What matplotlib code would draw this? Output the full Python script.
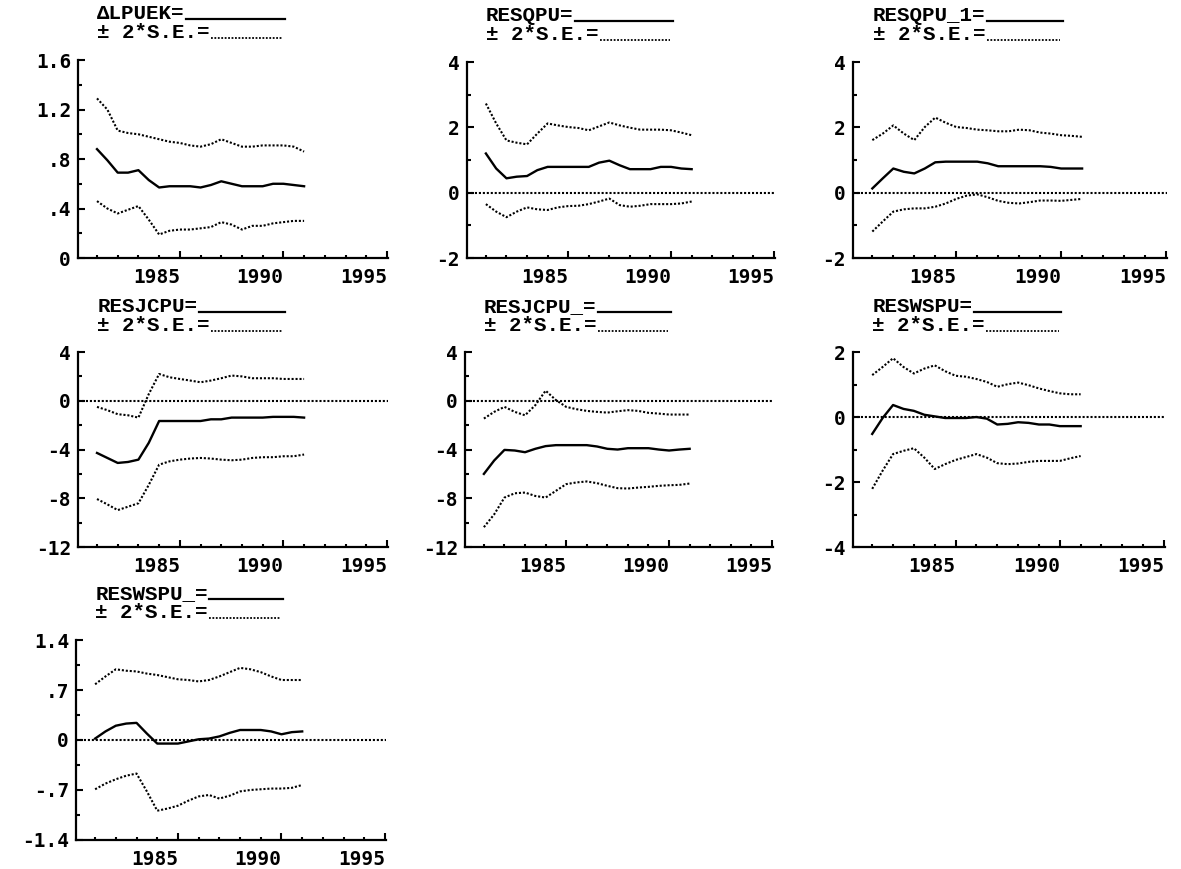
import numpy as np
import matplotlib
matplotlib.use("Agg")
import matplotlib.pyplot as plt
from matplotlib.font_manager import FontProperties

# half-yearly recursive estimates, 1981 - 1991
years = np.arange(1981, 1991.01, 0.5)

lpuek    = [0.88, 0.79, 0.69, 0.69, 0.71, 0.63, 0.57, 0.58, 0.58, 0.58, 0.57,
            0.59, 0.62, 0.60, 0.58, 0.58, 0.58, 0.60, 0.60, 0.59, 0.58]
lpuek_hi = [1.29, 1.20, 1.03, 1.01, 1.00, 0.98, 0.96, 0.94, 0.93, 0.91, 0.90,
            0.92, 0.96, 0.93, 0.90, 0.90, 0.91, 0.91, 0.91, 0.90, 0.86]
lpuek_lo = [0.46, 0.40, 0.36, 0.39, 0.42, 0.31, 0.19, 0.22, 0.23, 0.23, 0.24,
            0.25, 0.29, 0.27, 0.23, 0.26, 0.26, 0.28, 0.29, 0.30, 0.30]

qpu    = [1.20, 0.74, 0.44, 0.49, 0.51, 0.69, 0.79, 0.79, 0.79, 0.79, 0.79,
          0.92, 0.98, 0.84, 0.72, 0.72, 0.72, 0.79, 0.79, 0.74, 0.72]
qpu_hi = [2.73, 2.12, 1.60, 1.53, 1.48, 1.81, 2.12, 2.06, 2.01, 1.98, 1.91,
          2.03, 2.15, 2.06, 1.99, 1.93, 1.93, 1.93, 1.91, 1.84, 1.76]
qpu_lo = [-0.35, -0.58, -0.75, -0.58, -0.45, -0.51, -0.53, -0.45, -0.41, -0.40, -0.35,
          -0.27, -0.18, -0.38, -0.43, -0.40, -0.35, -0.35, -0.35, -0.33, -0.27]

qpu1    = [0.13, 0.44, 0.74, 0.64, 0.59, 0.74, 0.93, 0.95, 0.95, 0.95, 0.95,
           0.90, 0.81, 0.81, 0.81, 0.81, 0.81, 0.79, 0.74, 0.74, 0.74]
qpu1_hi = [1.61, 1.81, 2.06, 1.81, 1.61, 2.01, 2.30, 2.14, 2.01, 1.98, 1.93,
           1.91, 1.88, 1.88, 1.93, 1.91, 1.84, 1.81, 1.76, 1.74, 1.71]
qpu1_lo = [-1.19, -0.88, -0.58, -0.51, -0.48, -0.48, -0.43, -0.33, -0.19, -0.09, -0.05,
           -0.14, -0.25, -0.31, -0.33, -0.29, -0.24, -0.24, -0.25, -0.22, -0.19]

jcpu    = [-4.28, -4.69, -5.10, -5.02, -4.83, -3.45, -1.66, -1.66, -1.66, -1.66, -1.66,
           -1.52, -1.52, -1.38, -1.38, -1.38, -1.38, -1.32, -1.32, -1.32, -1.38]
jcpu_hi = [-0.50, -0.77, -1.10, -1.19, -1.38, 0.55, 2.20, 1.93, 1.79, 1.66, 1.52,
           1.66, 1.85, 2.07, 2.00, 1.85, 1.85, 1.85, 1.79, 1.79, 1.79]
jcpu_lo = [-8.06, -8.50, -8.97, -8.69, -8.41, -6.90, -5.24, -4.97, -4.83, -4.74, -4.69,
           -4.74, -4.83, -4.88, -4.83, -4.69, -4.63, -4.63, -4.55, -4.55, -4.41]

jcpu_    = [-6.00, -4.90, -4.03, -4.08, -4.22, -3.94, -3.72, -3.64, -3.64, -3.64, -3.64,
            -3.75, -3.94, -4.00, -3.89, -3.89, -3.89, -4.00, -4.08, -4.00, -3.94]
jcpu__hi = [-1.46, -0.91, -0.50, -0.91, -1.19, -0.36, 0.83, 0.06, -0.50, -0.69, -0.83,
            -0.91, -0.97, -0.86, -0.77, -0.83, -0.99, -1.05, -1.13, -1.13, -1.13]
jcpu__lo = [-10.37, -9.32, -7.94, -7.59, -7.53, -7.81, -7.94, -7.39, -6.84, -6.70, -6.62,
            -6.76, -6.98, -7.17, -7.20, -7.12, -7.06, -6.98, -6.93, -6.90, -6.79]

wspu    = [-0.52, -0.03, 0.37, 0.25, 0.19, 0.07, 0.02, -0.03, -0.03, -0.03, 0.00,
           -0.05, -0.23, -0.21, -0.16, -0.18, -0.23, -0.23, -0.28, -0.28, -0.28]
wspu_hi = [1.29, 1.54, 1.81, 1.54, 1.34, 1.49, 1.59, 1.41, 1.27, 1.24, 1.17,
           1.08, 0.93, 1.01, 1.06, 0.98, 0.88, 0.80, 0.73, 0.70, 0.70]
wspu_lo = [-2.21, -1.65, -1.14, -1.04, -0.96, -1.25, -1.60, -1.45, -1.32, -1.23, -1.14,
           -1.25, -1.42, -1.45, -1.43, -1.38, -1.35, -1.35, -1.35, -1.27, -1.20]

wspu_    = [0.02, 0.12, 0.20, 0.23, 0.24, 0.09, -0.05, -0.05, -0.05, -0.02, 0.01,
            0.02, 0.05, 0.10, 0.14, 0.14, 0.14, 0.12, 0.08, 0.11, 0.12]
wspu__hi = [0.78, 0.89, 0.99, 0.97, 0.96, 0.93, 0.91, 0.88, 0.85, 0.84, 0.82,
            0.84, 0.89, 0.95, 1.01, 0.99, 0.95, 0.89, 0.84, 0.84, 0.84]
wspu__lo = [-0.69, -0.61, -0.55, -0.50, -0.47, -0.72, -0.99, -0.96, -0.92, -0.85, -0.79,
            -0.77, -0.82, -0.78, -0.72, -0.70, -0.69, -0.68, -0.68, -0.67, -0.63]

names = ["\u0394LPUEK", "RESQPU", "RESQPU_1", "RESJCPU", "RESJCPU_", "RESWSPU", "RESWSPU_"]
se_label = "\u00b1 2*S.E.="
series = [(lpuek, lpuek_hi, lpuek_lo), (qpu, qpu_hi, qpu_lo), (qpu1, qpu1_hi, qpu1_lo),
          (jcpu, jcpu_hi, jcpu_lo), (jcpu_, jcpu__hi, jcpu__lo),
          (wspu, wspu_hi, wspu_lo), (wspu_, wspu__hi, wspu__lo)]

yticks = [[0, 0.4, 0.8, 1.2, 1.6], [-2, 0, 2, 4], [-2, 0, 2, 4],
          [-12, -8, -4, 0, 4], [-12, -8, -4, 0, 4], [-4, -2, 0, 2],
          [-1.4, -0.7, 0, 0.7, 1.4]]
ylabels = [["0", ".4", ".8", "1.2", "1.6"], ["-2", "0", "2", "4"], ["-2", "0", "2", "4"],
           ["-12", "-8", "-4", "0", "4"], ["-12", "-8", "-4", "0", "4"],
           ["-4", "-2", "0", "2"], ["-1.4", "-.7", "0", ".7", "1.4"]]

xmajor = [1985, 1990, 1995]
xlabels = ["1985", "1990", "1995"]
xminor = [y for y in range(1981, 1995) if y not in xmajor]

# axes boxes (figure fraction)
boxes = [[0.0660, 0.7031, 0.2625, 0.2278], [0.3954, 0.7031, 0.2608, 0.2255],
         [0.7223, 0.7031, 0.2659, 0.2255], [0.0660, 0.3705, 0.2625, 0.2244],
         [0.3937, 0.3705, 0.2608, 0.2244], [0.7223, 0.3705, 0.2642, 0.2244],
         [0.0644, 0.0334, 0.2625, 0.2301]]

tick_font = dict(family=["DejaVu Sans Mono"], weight="bold", size=14)
title_font = dict(family=["Liberation Mono", "DejaVu Sans Mono"], weight="bold", size=15)
dots = (0, (1, 0.9))

fig = plt.figure(figsize=(11.81, 8.69), dpi=100)
axes = []
for i, box in enumerate(boxes):
    ax = fig.add_axes(box)
    mid, hi, lo = series[i]
    ax.plot(years, mid, color="black", lw=1.7, solid_joinstyle="round")
    ax.plot(years, hi, color="black", lw=1.5, ls=dots)
    ax.plot(years, lo, color="black", lw=1.5, ls=dots)
    if yticks[i][0] < 0:
        ax.axhline(0, color="black", lw=1.5, ls=dots)

    ax.set_xlim(1980.08, 1995.05)
    ax.set_ylim(yticks[i][0], yticks[i][-1])
    for s in ["top", "right"]:
        ax.spines[s].set_visible(False)
    for s in ["left", "bottom"]:
        ax.spines[s].set_linewidth(1.6)

    ax.set_xticks(xmajor, xlabels, **tick_font)
    ax.set_xticks(xminor, minor=True)
    for lbl in ax.get_xticklabels():
        lbl.set_ha("right")
    yt = yticks[i]
    ax.set_yticks(yt, ylabels[i], **tick_font)
    ax.set_yticks([(a + b) / 2 for a, b in zip(yt[:-1], yt[1:])], minor=True)
    ax.tick_params(axis="x", which="major", direction="in", length=5, width=1.5, pad=7)
    ax.tick_params(axis="x", which="minor", direction="in", length=2.5, width=1.5)
    ax.tick_params(axis="y", which="major", direction="in", length=5, width=1.5, pad=5)
    ax.tick_params(axis="y", which="minor", direction="in", length=3, width=1.5)

    # two-line key; va="baseline" puts the last line's baseline at y
    t = ax.text(0.062, 1.11, names[i] + "=\n" + se_label, transform=ax.transAxes,
                va="baseline", linespacing=1.0, **title_font)
    axes.append((ax, t))

# key lines after the two title lines
fig.canvas.draw()
r = fig.canvas.get_renderer()
fp = FontProperties(**title_font)
lp_w, lp_h, lp_d = r.get_text_width_height_descent("lp", fp, ismath=False)
for i, (ax, t) in enumerate(axes):
    inv = ax.transAxes.inverted()
    bb = t.get_window_extent(r)
    w1, h1, d1 = r.get_text_width_height_descent(names[i] + "=", fp, ismath=False)
    w2 = r.get_text_width_height_descent(se_label, fp, ismath=False)[0]
    x1 = inv.transform((bb.x0 + w1, 0))[0]
    x2 = inv.transform((bb.x0 + w2, 0))[0]
    y1 = inv.transform((0, bb.y1 - max(h1 - d1, lp_h - lp_d)))[1]
    ax.plot([x1 + 0.005, 0.668], [y1, y1], transform=ax.transAxes, clip_on=False,
            color="black", lw=1.6)
    ax.plot([x2 + 0.005, 0.66], [1.11, 1.11], transform=ax.transAxes, clip_on=False,
            color="black", lw=1.3, ls=dots)

fig.savefig("out.png", dpi=100, facecolor="white")
